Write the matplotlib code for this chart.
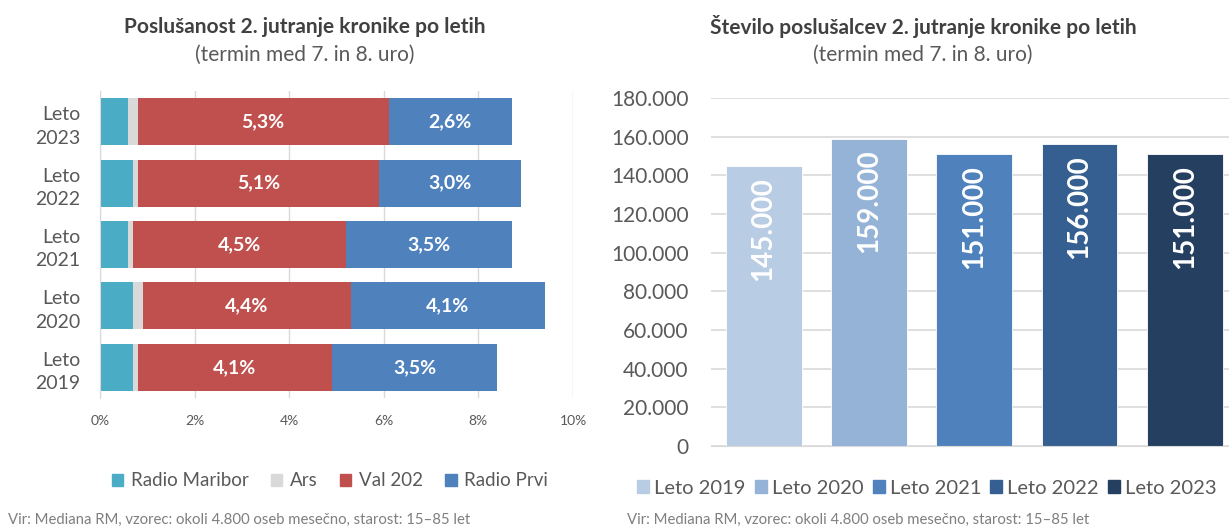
import matplotlib
matplotlib.use("Agg")
import matplotlib.pyplot as plt
from matplotlib.patches import Patch

plt.rcParams["font.family"] = ["Lato", "DejaVu Sans"]

# left chart: listening share by station (percent)
years_left = ["Leto\n2019", "Leto\n2020", "Leto\n2021", "Leto\n2022", "Leto\n2023"]
stations = ["Radio Maribor", "Ars", "Val 202", "Radio Prvi"]
maribor = [0.7, 0.7, 0.6, 0.7, 0.6]
ars = [0.1, 0.2, 0.1, 0.1, 0.2]
val202 = [4.1, 4.4, 4.5, 5.1, 5.3]
prvi = [3.5, 4.1, 3.5, 3.0, 2.6]
station_colors = ["#4BACC6", "#D9D9D9", "#C0504D", "#4F81BD"]

# right chart: number of listeners
years_right = ["Leto 2019", "Leto 2020", "Leto 2021", "Leto 2022", "Leto 2023"]
listeners = [145000, 159000, 151000, 156000, 151000]
year_colors = ["#B8CCE4", "#95B3D7", "#4F81BD", "#365F91", "#243F60"]

TXT = "#595959"
TITLE = "#404040"
GRID = "#D9D9D9"

fig = plt.figure(figsize=(12.29, 5.27), dpi=100)

# ---- left: stacked horizontal bars
ax1 = fig.add_axes([100 / 1229, 1 - 398 / 527, 473 / 1229, 307 / 527])
y = range(len(years_left))
left = [0.0] * len(y)
series = [maribor, ars, val202, prvi]
for name, vals, col in zip(stations, series, station_colors):
    bars = ax1.barh(y, vals, left=left, height=0.765, color=col, label=name)
    if name in ("Val 202", "Radio Prvi"):
        ax1.bar_label(bars, labels=[f"{v:.1f}%".replace(".", ",") for v in vals],
                      label_type="center", color="white", fontweight="bold", fontsize=14)
    left = [a + b for a, b in zip(left, vals)]

ax1.set_xlim(0, 10)
ax1.set_ylim(-0.5, 4.5)
ax1.set_xticks(range(0, 11, 2))
ax1.set_xticklabels([f"{t}%" for t in range(0, 11, 2)])
ax1.set_yticks(list(y))
ax1.set_yticklabels(years_left, linespacing=1.45)
ax1.tick_params(axis="x", length=0, pad=12, labelsize=10, labelcolor=TXT)
ax1.tick_params(axis="y", length=0, pad=14, labelsize=14, labelcolor=TXT)
ax1.grid(axis="x", color=GRID, linewidth=1)
ax1.set_axisbelow(True)
for s in ("top", "right", "bottom"):
    ax1.spines[s].set_visible(False)
ax1.spines["left"].set_color(GRID)

fig.text(305 / 1229, 1 - 27 / 527, "Poslušanost 2. jutranje kronike po letih",
         ha="center", va="center", fontsize=15, fontweight="bold", color=TITLE)
fig.text(305 / 1229, 1 - 55 / 527, "(termin med 7. in 8. uro)",
         ha="center", va="center", fontsize=15, color=TXT)

h1 = [Patch(color=c) for c in station_colors]
fig.legend(h1, stations, loc="center", bbox_to_anchor=(330 / 1229, 1 - 481 / 527),
           ncol=4, frameon=False, fontsize=13.5, labelcolor=TXT,
           handlelength=0.6, handleheight=0.6, handletextpad=0.4, columnspacing=1.2)

# ---- right: vertical bars
ax2 = fig.add_axes([711 / 1229, 1 - 446 / 527, 518 / 1229, 348 / 527])
x = range(len(years_right))
bars = ax2.bar(x, listeners, width=0.72, color=year_colors, edgecolor="white", linewidth=0.6)
for xi, v in zip(x, listeners):
    ax2.annotate(f"{v:,}".replace(",", "."), (xi, v), xytext=(0, -8),
                 textcoords="offset points", rotation=90, ha="center", va="top",
                 color="white", fontsize=20, fontweight="bold")
ax2.set_xlim(-0.5, 4.42)
ax2.set_ylim(0, 180000)
ax2.set_yticks(range(0, 180001, 20000))
ax2.set_yticklabels([f"{t:,}".replace(",", ".") for t in range(0, 180001, 20000)])
ax2.set_xticks([])
ax2.tick_params(axis="y", length=0, pad=16, labelsize=15, labelcolor=TXT)
ax2.grid(axis="y", color=GRID, linewidth=1.2)
ax2.set_axisbelow(True)
for s in ("top", "right", "left"):
    ax2.spines[s].set_visible(False)
ax2.spines["bottom"].set_color(GRID)

fig.text(923 / 1229, 1 - 27 / 527, "Število poslušalcev 2. jutranje kronike po letih",
         ha="center", va="center", fontsize=15, fontweight="bold", color=TITLE)
fig.text(923 / 1229, 1 - 55 / 527, "(termin med 7. in 8. uro)",
         ha="center", va="center", fontsize=15, color=TXT)

h2 = [Patch(color=c) for c in year_colors]
fig.legend(h2, years_right, loc="center", bbox_to_anchor=(927 / 1229, 1 - 488 / 527),
           ncol=5, frameon=False, fontsize=14.5, labelcolor=TXT,
           handlelength=0.6, handleheight=0.6, handletextpad=0.25, columnspacing=0.45)

src = "Vir: Mediana RM, vzorec: okoli 4.800 oseb mesečno, starost: 15–85 let"
fig.text(8 / 1229, 1 - 520 / 527, src, ha="left", va="center", fontsize=10.7, color="#7F7F7F")
fig.text(627 / 1229, 1 - 520 / 527, src, ha="left", va="center", fontsize=10.7, color="#7F7F7F")

fig.savefig("out.png", dpi=100)
